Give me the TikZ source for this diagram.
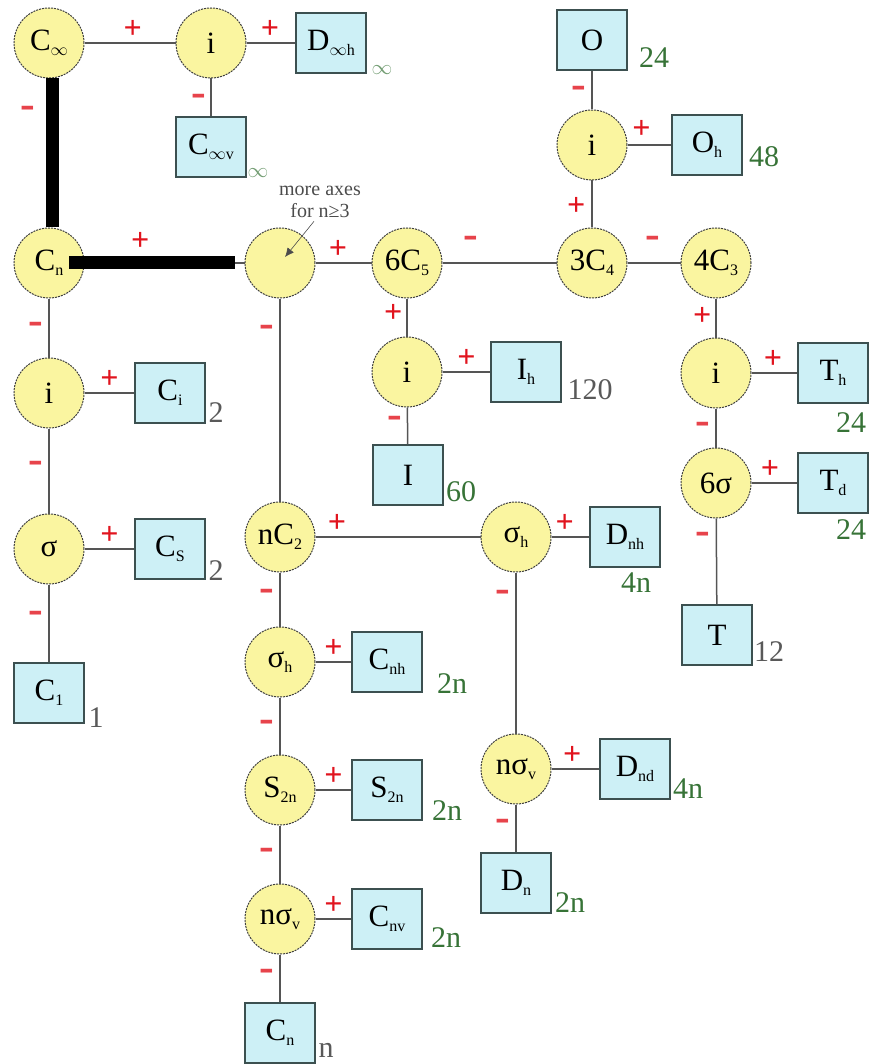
\documentclass[tikz,border=0pt]{standalone}
\usepackage{fontspec}
\setmainfont{Liberation Serif}
\usetikzlibrary{arrows.meta,positioning}
\definecolor{opfill}{RGB}{250,245,160}
\definecolor{grpfill}{RGB}{205,240,246}
\definecolor{grpline}{RGB}{60,80,80}
\definecolor{conn}{RGB}{85,85,85}
\definecolor{ordgreen}{RGB}{55,115,55}
\definecolor{signred}{RGB}{225,20,30}
\newcommand{\sx}[1]{\raisebox{-5pt}{\fontsize{16}{16}\selectfont #1}}

\begin{document}
\begin{tikzpicture}[x=1pt,y=-1pt,>=Latex,
  op/.style={circle,draw=black!75,line width=1pt,dash pattern=on 2pt off 1pt,fill=opfill,
             minimum size=70pt,inner sep=0pt,font=\fontsize{31}{33}\selectfont},
  grp/.style={rectangle,draw=grpline,line width=1.1pt,fill=grpfill,
              minimum width=70pt,minimum height=60pt,inner sep=0pt,font=\fontsize{31}{33}\selectfont},
  ord/.style={text=ordgreen,font=\fontsize{30}{32}\selectfont,inner sep=0pt},
  ordk/.style={ord,text=black!65},
  inf/.style={ord,text=ordgreen!70,font=\fontsize{20}{20}\selectfont},
  ln/.style={draw=conn,line width=1.5pt},
  pl/.style={text=signred,font=\fontsize{32}{32}\selectfont\bfseries,inner sep=0pt},
  mi/.style={text=signred!80,font=\fontsize{44}{44}\selectfont\bfseries,inner sep=0pt},
  bar/.style={line width=13pt,black}]
  \useasboundingbox (0,0) rectangle (868,1064);

  % linear molecules
  \node[op] (cinf) at (49,43) {C\sx{$\infty$}};
  \node[op] (ia) at (211,43) {i};
  \node[grp] (dinfh) at (331,43) {D\sx{$\infty$h}};
  \node[grp] (cinfv) at (211,147) {C\sx{$\infty$v}};

  % low symmetry
  \node[op] (cn) at (49,263) {C\sx{n}};
  \node[op] (ib) at (49,393) {i};
  \node[grp] (cigrp) at (170,393) {C\sx{i}};
  \node[op] (sig) at (49,549) {σ};
  \node[grp] (csgrp) at (170,549) {C\sx{S}};
  \node[grp] (conegrp) at (49,693) {C\sx{1}};

  % high symmetry
  \node[op] (big) at (280,263) {};
  \node[op] (sixc) at (407,263) {6C\sx{5}};
  \node[op] (threec) at (592,263) {3C\sx{4}};
  \node[op] (fourc) at (716,263) {4C\sx{3}};
  \node[op] (io) at (592,145) {i};
  \node[grp] (ogrp) at (592,40) {O};
  \node[grp] (ohgrp) at (707,145) {O\sx{h}};
  \node[op] (ii) at (407,372) {i};
  \node[grp] (ihgrp) at (526,372) {I\sx{h}};
  \node[grp] (igrp) at (408,475) {I};
  \node[op] (it) at (716,373) {i};
  \node[grp] (thgrp) at (833,373) {T\sx{h}};
  \node[op] (sixsig) at (716,483) {6σ};
  \node[grp] (tdgrp) at (833,483) {T\sx{d}};
  \node[grp] (tgrp) at (717,635) {T};

  % n-fold axis
  \node[op] (nctwo) at (280,537) {nC\sx{2}};
  \node[op] (sigh) at (516,537) {σ\sx{h}};
  \node[grp] (dnhgrp) at (625,537) {D\sx{nh}};
  \node[op] (nsigv) at (516,769) {nσ\sx{v}};
  \node[grp] (dndgrp) at (635,769) {D\sx{nd}};
  \node[grp] (dngrp) at (516,883) {D\sx{n}};
  \node[op] (sighl) at (280,662) {σ\sx{h}};
  \node[grp] (cnhgrp) at (387,662) {C\sx{nh}};
  \node[op] (stwon) at (280,790) {S\sx{2n}};
  \node[grp] (stwongrp) at (387,790) {S\sx{2n}};
  \node[op] (nsigvl) at (280,919) {nσ\sx{v}};
  \node[grp] (cnvgrp) at (387,919) {C\sx{nv}};
  \node[grp] (cngrp) at (280,1033) {C\sx{n}};

  % group orders
  \node[inf] (o-dinfh) at (382,70) {$\infty$};
  \node[inf] (o-cinfv) at (258,173) {$\infty$};
  \node[ord] (o-o) at (654,58) {24};
  \node[ord] (o-oh) at (764,157) {48};
  \node[ordk] (o-ci) at (216,413) {2};
  \node[ordk] (o-cs) at (216,571) {2};
  \node[ordk] (o-cone) at (96,718) {1};
  \node[ordk] (o-ih) at (590,390) {120};
  \node[ord] (o-i) at (461,492) {60};
  \node[ord] (o-th) at (851,423) {24};
  \node[ord] (o-td) at (851,530) {24};
  \node[ordk] (o-t) at (769,652) {12};
  \node[ord] (o-dnh) at (636,583) {4n};
  \node[ord] (o-cnh) at (452,684) {2n};
  \node[ord] (o-stwon) at (447,811) {2n};
  \node[ord] (o-cnv) at (446,938) {2n};
  \node[ordk] (o-cn) at (326,1050) {n};
  \node[ord] (o-dnd) at (688,789) {4n};
  \node[ord] (o-dn) at (570,903) {2n};

  \node[align=center,text=black!70,font=\fontsize{20}{22}\selectfont] (more) at (320,202) {more axes\\for n≥3};

  \draw[ln] (cinf) -- node[pl,above=4pt,pos=.53]{+} (ia);
  \draw[ln] (ia) -- node[pl,above=4pt,pos=.48]{+} (dinfh);
  \draw[ln] (ia) -- node[mi,left=4pt,pos=.57]{-} (cinfv);
  \draw[ln] (cinf) -- (cn);
  \draw[ln] (cn) -- (big);
  \draw[ln] (cn) -- node[mi,left=5pt]{-} (ib);
  \draw[ln] (ib) -- node[pl,above=4pt]{+} (cigrp);
  \draw[ln] (ib) -- node[mi,left=5pt,pos=.46]{-} (sig);
  \draw[ln] (sig) -- node[pl,above=4pt]{+} (csgrp);
  \draw[ln] (sig) -- node[mi,left=5pt,pos=.42]{-} (conegrp);
  \draw[ln] (big) -- node[pl,above=4pt,pos=.4]{+} (sixc);
  \draw[ln] (big) -- node[mi,left=5pt,pos=.16]{-} (nctwo);
  \draw[ln] (sixc) -- node[mi,above=14pt,pos=.25]{-} (threec);
  \draw[ln] (threec) -- node[mi,above=14pt,pos=.47]{-} (fourc);
  \draw[ln] (threec) -- node[pl,left=6pt,pos=.44]{+} (io);
  \draw[ln] (io) -- node[mi,left=5pt,pos=.45]{-} (ogrp);
  \draw[ln] (io) -- node[pl,above=6pt,pos=.32]{+} (ohgrp);
  \draw[ln] (sixc) -- node[pl,left=4pt,pos=.4]{+} (ii);
  \draw[ln] (ii) -- node[pl,above=4pt]{+} (ihgrp);
  \draw[ln] (ii) -- node[mi,left=5pt,pos=.4]{-} (igrp);
  \draw[ln] (fourc) -- node[pl,left=4pt,pos=.45]{+} (it);
  \draw[ln] (it) -- node[pl,above=4pt,pos=.47]{+} (thgrp);
  \draw[ln] (it) -- node[mi,left=5pt]{-} (sixsig);
  \draw[ln] (sixsig) -- node[pl,above=4pt,pos=.4]{+} (tdgrp);
  \draw[ln] (sixsig) -- node[mi,left=5pt,pos=.23]{-} (tgrp);
  \draw[ln] (nctwo) -- node[pl,above=4pt,pos=.13]{+} (sigh);
  \draw[ln] (sigh) -- node[pl,above=4pt,pos=.35]{+} (dnhgrp);
  \draw[ln] (sigh) -- node[mi,left=5pt,pos=.15]{-} (nsigv);
  \draw[ln] (nsigv) -- node[pl,above=4pt,pos=.43]{+} (dndgrp);
  \draw[ln] (nsigv) -- node[mi,left=5pt,pos=.43]{-} (dngrp);
  \draw[ln] (nctwo) -- node[mi,left=5pt,pos=.42]{-} (sighl);
  \draw[ln] (sighl) -- node[pl,above=4pt]{+} (cnhgrp);
  \draw[ln] (sighl) -- node[mi,left=5pt]{-} (stwon);
  \draw[ln] (stwon) -- node[pl,above=4pt]{+} (stwongrp);
  \draw[ln] (stwon) -- node[mi,left=5pt]{-} (nsigvl);
  \draw[ln] (nsigvl) -- node[pl,above=4pt]{+} (cnvgrp);
  \draw[ln] (nsigvl) -- node[mi,left=5pt,pos=.44]{-} (cngrp);

  \draw[-{Latex[length=9pt,width=8pt]},black!70,line width=0.6pt] ([xshift=-6pt]more.south) -- ([xshift=5pt,yshift=6pt]big.center);

  % thick bars on top
  \draw[bar] ([xshift=3pt]cinf.south) -- node[mi,left=10pt,pos=.23]{-} ([xshift=3pt]cn.north);
  \draw[bar] ([xshift=20pt]cn.center) -- node[pl,above=6pt,pos=.43]{+} ([xshift=-10pt]big.west);
\end{tikzpicture}
\end{document}
